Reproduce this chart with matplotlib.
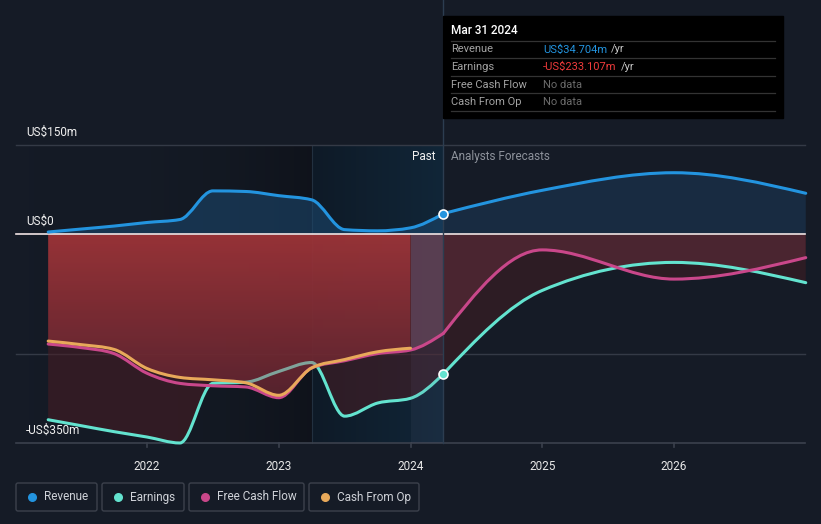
import numpy as np
import matplotlib
matplotlib.use("Agg")
import matplotlib.pyplot as plt
from matplotlib.colors import LinearSegmentedColormap
from matplotlib.patches import Rectangle, FancyBboxPatch, PathPatch
from matplotlib.path import Path

plt.rcParams['font.family'] = ['Roboto', 'DejaVu Sans']

# ---- data (US$m), quarterly history + annual analyst forecasts ----
past_x = [2021.25, 2021.5, 2021.75, 2022.0, 2022.25, 2022.5, 2022.75,
          2023.0, 2023.25, 2023.5, 2023.75, 2024.0, 2024.25]
rev_past = [4, 9, 14, 20, 25, 73, 72, 65, 58, 8, 6, 11, 35]
earn_past = [-311, -321, -331, -340, -350, -250, -248, -230, -215, -305, -283, -275, -234]
fcf_past = [-184, -190, -200, -233, -250, -254, -256, -274, -224, -212, -200, -194, -166]
cfo_x = past_x[:-1]
cfo_past = [-179, -185, -193, -225, -240, -244, -249, -270, -224, -210, -197, -191]

fc_x = [2024.25, 2025.0, 2026.0, 2027.0]
rev_fc = [35, 74, 103.5, 69]
earn_fc = [-234, -94, -47, -81]
fcf_fc = [-166, -26, -75, -39]

years = [2022, 2023, 2024, 2025, 2026]
y_ticks = [150, 0, -350]
y_tick_labels = ["US$150m", "US$0", "-US$350m"]

BG = "#151b26"
C_REV = "#2394df"
C_EARN = "#63e3cf"
C_FCF = "#c9478a"
C_CFO = "#e8a95a"

# pixel mapping: 2022 -> x=147, 131.75 px/year ; 0 -> y=234.4, 1.678 m/px
PPY = 131.75
MPP = 1.678
xl = (2022 - 147 / PPY, 2022 + (821 - 147) / PPY)
yl = (-(524 - 234.4) * MPP, 234.4 * MPP)
x_start, x_end = 2022 + (16 - 147) / PPY, 2022 + (805 - 147) / PPY
now = 2024.25


def smooth(xs, ys):
    # monotone-x cubic bezier path through the points (same as d3 curveMonotoneX)
    x = np.asarray(xs, float)
    y = np.asarray(ys, float)
    h = np.diff(x)
    s = np.diff(y) / h
    n = len(x)
    t = np.zeros(n)
    for i in range(1, n - 1):
        p = (s[i - 1] * h[i] + s[i] * h[i - 1]) / (h[i - 1] + h[i])
        t[i] = (np.sign(s[i - 1]) + np.sign(s[i])) * min(abs(s[i - 1]), abs(s[i]), 0.5 * abs(p))
    t[0] = (3 * s[0] - t[1]) / 2 if n > 2 else s[0]
    t[-1] = (3 * s[-1] - t[-2]) / 2 if n > 2 else s[-1]
    verts = [(x[0], y[0])]
    codes = [Path.MOVETO]
    for i in range(n - 1):
        dx = h[i] / 3
        verts += [(x[i] + dx, y[i] + dx * t[i]), (x[i + 1] - dx, y[i + 1] - dx * t[i + 1]), (x[i + 1], y[i + 1])]
        codes += [Path.CURVE4] * 3
    return verts, codes


def line_path(xs, ys):
    v, c = smooth(xs, ys)
    return Path(v, c)


def area_path(xs, ys):
    v, c = smooth(xs, ys)
    verts = [(xs[0], 0)] + v + [(xs[-1], 0), (xs[0], 0)]
    codes = [Path.MOVETO, Path.LINETO] + c[1:] + [Path.LINETO, Path.CLOSEPOLY]
    return Path(verts, codes)


fig = plt.figure(figsize=(8.21, 5.24), dpi=100, facecolor=BG)
ax = fig.add_axes([0, 0, 1, 1])
ax.set_facecolor(BG)
ax.set_xlim(*xl)
ax.set_ylim(*yl)
ax.axis("off")

# darker past background gradient
grad = np.linspace(0, 1, 256).reshape(1, -1) ** 1.5
ax.imshow(grad, extent=[x_start, 2023.25, -350, 150], aspect="auto", zorder=0,
          cmap=LinearSegmentedColormap.from_list("d", [(0.08, 0.106, 0.15, 0), (0.04, 0.05, 0.07, 0.55)]))
# last-year highlight
hl = np.linspace(0, 1, 256).reshape(1, -1)
ax.imshow(hl, extent=[2023.25, now, -350, 150], aspect="auto", zorder=0,
          cmap=LinearSegmentedColormap.from_list("h", ["#0e1a27", "#112638"]))
ax.plot([2023.25, 2023.25], [-350, 150], color="#22303f", lw=0.8, zorder=1)

# grid
for v in [150, -200]:
    ax.plot([x_start, x_end], [v, v], color="#343a46", lw=1, zorder=1)
ax.plot([x_start, x_end], [-350, -350], color="#3b414d", lw=1.2, zorder=1)
for yr in years:
    ax.plot([yr, yr], [-350, -350 - 4 * MPP], color="#3b414d", lw=1.2, zorder=1)

# revenue area
ax.add_patch(PathPatch(area_path(past_x, rev_past), fc="#1c4a72", alpha=0.55, lw=0, zorder=2))
ax.add_patch(PathPatch(area_path(fc_x, rev_fc), fc="#1c4062", alpha=0.45, lw=0, zorder=2))

# earnings area (past)
ax.add_patch(PathPatch(area_path(past_x, earn_past), fc="#4a1d24", alpha=0.55, lw=0, zorder=2))

# forecast: dark between 0 and either line, lighter between 0 and the line closer to zero
earn_fc_area = area_path(fc_x, earn_fc)
fcf_fc_area = area_path(fc_x, fcf_fc)
ax.add_patch(PathPatch(earn_fc_area, fc="#2d1c24", lw=0, zorder=2))
ax.add_patch(PathPatch(fcf_fc_area, fc="#2d1c24", lw=0, zorder=2))
light = PathPatch(earn_fc_area, fc="#4a2530", lw=0, zorder=2)
ax.add_patch(light)
light.set_clip_path(fcf_fc_area, transform=ax.transData)

# past earnings line: full under the red, dimmed copy on top inside the red area
cfo_area = area_path(cfo_x, cfo_past)
ax.add_patch(PathPatch(line_path(past_x, earn_past), fill=False, ec=C_EARN, lw=2.2,
                       capstyle="round", joinstyle="round", zorder=2.5))
dim = PathPatch(line_path(past_x, earn_past), fill=False, ec="#8fe8d6", alpha=0.6, lw=2.2,
                capstyle="round", joinstyle="round", zorder=3.5)
ax.add_patch(dim)
dim.set_clip_path(cfo_area, transform=ax.transData)

# strong red gradient for past cash flow
red = np.linspace(0, 1, 256).reshape(-1, 1)
im = ax.imshow(red, extent=[2021.25, 2024.0, -285, 0], aspect="auto", zorder=3, alpha=0.88,
               cmap=LinearSegmentedColormap.from_list("r", ["#a5363a", "#5c2430"]))
im.set_clip_path(cfo_area, transform=ax.transData)

# gap between last cash flow report and now
gap_top = PathPatch(area_path(past_x, fcf_past), fc="#8a5a70", alpha=0.45, lw=0, zorder=3)
ax.add_patch(gap_top)
gap_top.set_clip_path(Path([(2024.0, -400), (now, -400), (now, 0), (2024.0, 0), (2024.0, -400)],
                           [Path.MOVETO, Path.LINETO, Path.LINETO, Path.LINETO, Path.CLOSEPOLY]),
                      transform=ax.transData)
ax.add_patch(Rectangle((2024.0, -350), now - 2024.0, 350, fc="#6a6a90", alpha=0.1, lw=0, zorder=3))

# zero line
ax.plot([x_start, x_end], [0, 0], color="#f2e4e4", lw=1.2, zorder=4)

# now line
ax.plot([now, now], [-350, 393], color="#2c3d50", lw=1, zorder=4)

# lines
def draw(xs, ys, col):
    ax.add_patch(PathPatch(line_path(xs, ys), fill=False, ec=col, lw=2.2,
                           capstyle="round", joinstyle="round", zorder=5))

draw(fc_x, earn_fc, C_EARN)
draw(past_x, fcf_past, C_FCF)
draw(fc_x, fcf_fc, C_FCF)
draw(cfo_x, cfo_past, C_CFO)
draw(past_x, rev_past, C_REV)
draw(fc_x, rev_fc, C_REV)
ax.scatter([now], [rev_past[-1]], s=42, color=C_REV, edgecolor="white", lw=1.2, zorder=6)
ax.scatter([now], [earn_past[-1]], s=42, color=C_EARN, edgecolor="white", lw=1.2, zorder=6)

# tick labels
for yr in years:
    ax.text(yr, -350 - 24 * MPP, str(yr), color="#e8e8e8", fontsize=8.5, ha="center", va="center", zorder=6)
for v, lab in zip(y_ticks, y_tick_labels):
    ax.text(2022 + (26 - 147) / PPY, v + 13 * MPP, lab, color="#f0f0f0", fontsize=8.5,
            ha="left", va="center", zorder=6)
ax.text(now - 8 / PPY, 150 - 11 * MPP, "Past", color="#f0f0f0", fontsize=8.5, ha="right", va="center", zorder=6)
ax.text(now + 8 / PPY, 150 - 11 * MPP, "Analysts Forecasts", color="#8d929b", fontsize=8.5,
        ha="left", va="center", zorder=6)

# overlay axes in pixel coordinates for tooltip and legend
ui = fig.add_axes([0, 0, 1, 1])
ui.set_xlim(0, 821)
ui.set_ylim(524, 0)
ui.axis("off")
ui.patch.set_alpha(0)

ui.add_patch(Rectangle((443, 16), 340, 102, color="#000000", zorder=1))
ui.text(451, 31, "Mar 31 2024", color="white", fontsize=8.5, fontweight="medium", va="center")
for yy in [41, 58, 76, 93, 111]:
    ui.plot([451, 775], [yy, yy], color="#333333", lw=0.9)
rows = [("Revenue", "US$34.704m", C_REV, "/yr"),
        ("Earnings", "-US$233.107m", "#ef3b3b", "/yr"),
        ("Free Cash Flow", "No data", "#6b6b6b", ""),
        ("Cash From Op", "No data", "#6b6b6b", "")]
fig.canvas.draw()
for i, (lab, val, col, suf) in enumerate(rows):
    yy = 49.5 + i * 17.5
    ui.text(451, yy, lab, color="#a3a3a3", fontsize=8, va="center")
    t = ui.text(543, yy, val, color=col, fontsize=8, va="center")
    if suf:
        bb = t.get_window_extent(renderer=fig.canvas.get_renderer())
        ui.text(bb.x1 * 821 / fig.bbox.width + 4, yy, suf, color="#c8c8c8", fontsize=8, va="center")

legend = [("Revenue", C_REV, 16, 97), ("Earnings", C_EARN, 102, 184),
          ("Free Cash Flow", C_FCF, 189, 304), ("Cash From Op", C_CFO, 309, 419)]
for lab, col, x0, x1 in legend:
    ui.add_patch(FancyBboxPatch((x0, 483), x1 - x0, 28, boxstyle="round,pad=0,rounding_size=2",
                                fc="none", ec="#3c414c", lw=1))
    ui.scatter([x0 + 16], [497], s=30, color=col, zorder=3)
    ui.text(x0 + 28, 497, lab, color="#cfd2d8", fontsize=8.5, va="center")

fig.savefig("out.png", dpi=100, facecolor=BG)
